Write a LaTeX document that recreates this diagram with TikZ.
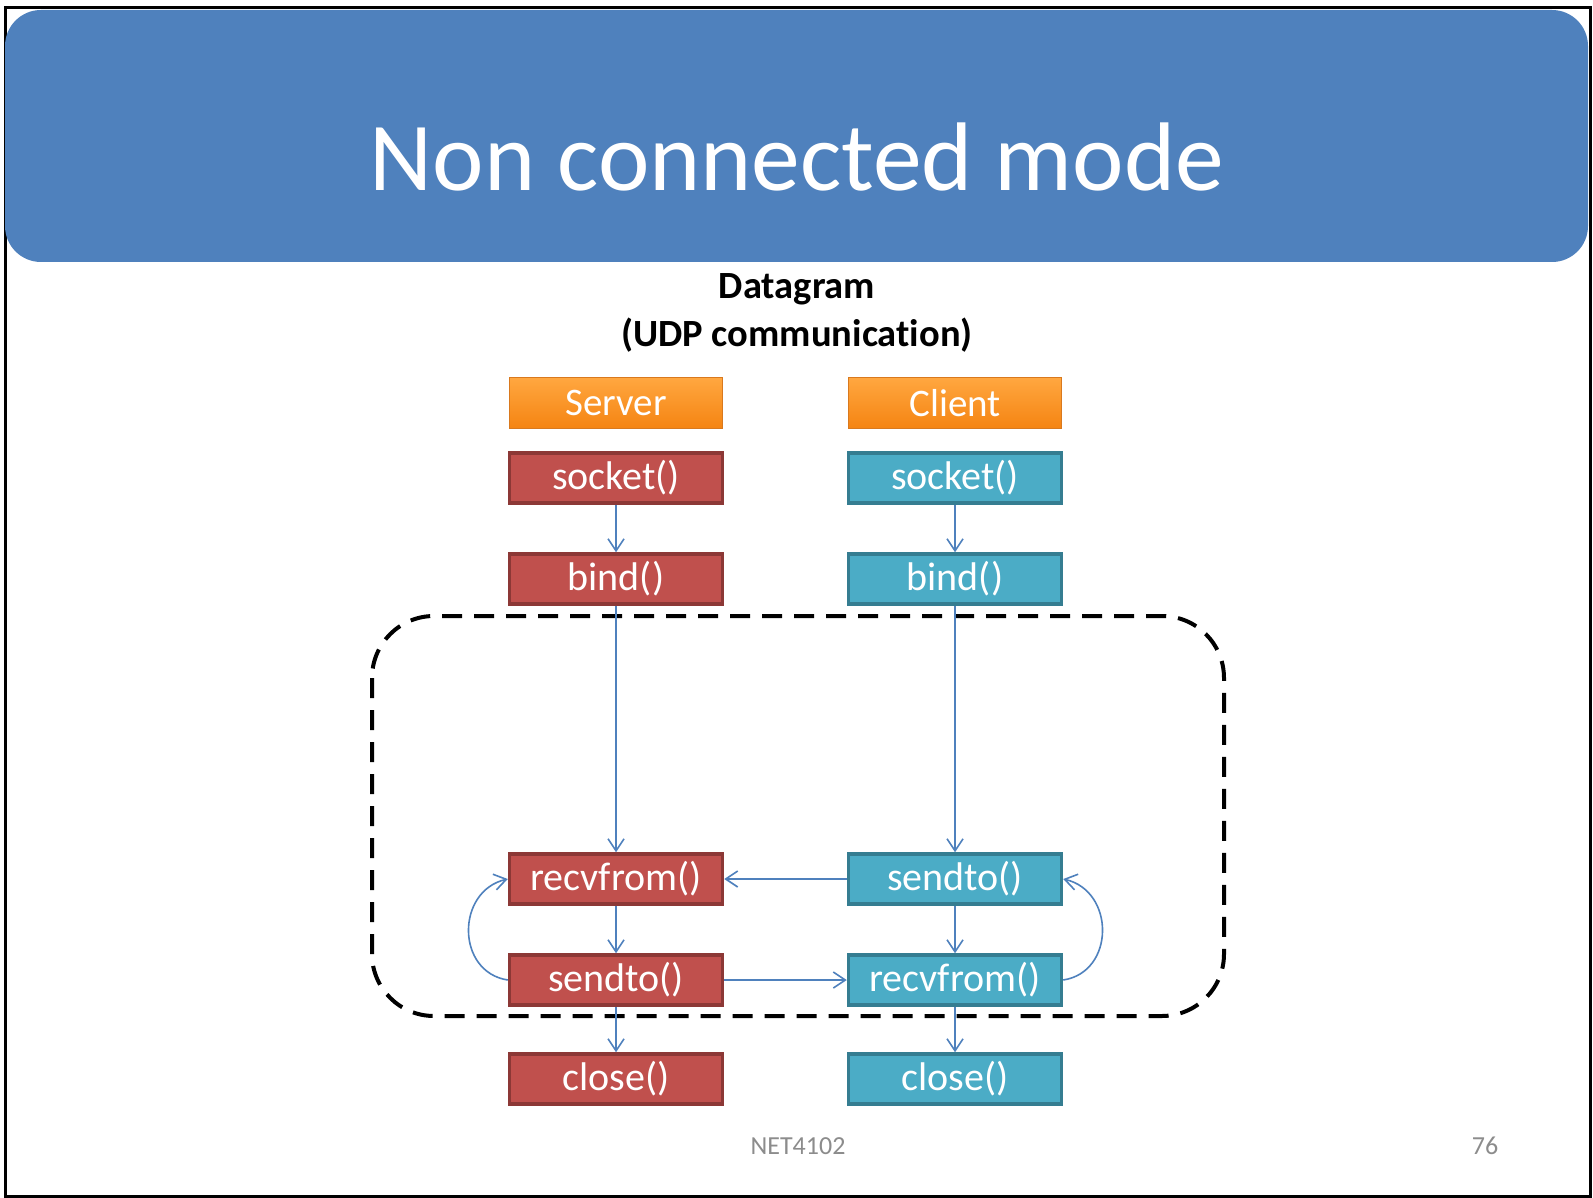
\documentclass[tikz,border=0pt]{standalone}
\usepackage{fontspec}
\setmainfont{Carlito}[Ligatures=NoCommon]
\usetikzlibrary{arrows.meta}
\definecolor{bannerblue}{HTML}{4F81BD}
\definecolor{srvfill}{HTML}{C0504D}
\definecolor{srvdraw}{HTML}{8C3836}
\definecolor{clifill}{HTML}{4BACC6}
\definecolor{clidraw}{HTML}{357D91}
\definecolor{orangetop}{HTML}{FFA740}
\definecolor{orangebot}{HTML}{F58412}
\definecolor{orangedraw}{HTML}{D9791E}
\definecolor{flowblue}{HTML}{4F81BD}
\definecolor{footgray}{HTML}{8C8C8C}
\tikzset{
  boxbase/.style={rectangle, minimum width=213pt, minimum height=50pt, inner sep=0pt,
    line width=3.5pt, text=white, font=\fontsize{40}{46}\selectfont},
  srvbox/.style={boxbase, fill=srvfill, draw=srvdraw},
  clibox/.style={boxbase, fill=clifill, draw=clidraw},
  rolebox/.style={rectangle, minimum width=213pt, minimum height=51pt, inner sep=0pt,
    line width=1.5pt, draw=orangedraw, top color=orangetop, bottom color=orangebot,
    text=white, font=\fontsize{39}{45}\selectfont},
  flow/.style={draw=flowblue, line width=1.6pt,
    -{Straight Barb[length=12pt,width=16pt,line width=1.6pt]}},
  session/.style={draw=black, line width=4pt, dash pattern=on 20pt off 12pt, rounded corners=62pt},
  foot/.style={text=footgray, font=\fontsize{26}{30}\selectfont}
}
\begin{document}
\begin{tikzpicture}[x=1pt,y=-1pt]
\useasboundingbox (0,0) rectangle (1593,1198);
\fill[white] (0,0) rectangle (1593,1198);
\draw[line width=3pt] (5,8) rectangle (1590,1196);
\fill[bannerblue, rounded corners=36pt] (5,10) rectangle (1588,262);
\node[text=white, font=\fontsize{97.5}{112}\selectfont] (title) at (797,157) {Non connected mode};
\node[font=\bfseries\fontsize{38.5}{48}\selectfont, align=center] (sub) at (797,313) {Datagram\\(UDP communication)};

\draw[session] (372,616) rectangle (1224,1016);

\node[rolebox] (server) at (616,403) {Server};
\node[rolebox] (client) at (955,403) {Client};

\node[srvbox] (ssock) at (616,478) {socket()};
\node[srvbox] (sbind) at (616,579) {bind()};
\node[srvbox] (srecv) at (616,879) {recvfrom()};
\node[srvbox] (ssend) at (616,980) {sendto()};
\node[srvbox] (sclose) at (616,1079) {close()};

\node[clibox] (csock) at (955,478) {socket()};
\node[clibox] (cbind) at (955,579) {bind()};
\node[clibox] (csend) at (955,879) {sendto()};
\node[clibox] (crecv) at (955,980) {recvfrom()};
\node[clibox] (cclose) at (955,1079) {close()};

\draw[flow] (ssock) -- (sbind);
\draw[flow] (sbind) -- (srecv);
\draw[flow] (srecv) -- (ssend);
\draw[flow] (ssend) -- (sclose);

\draw[flow] (csock) -- (cbind);
\draw[flow] (cbind) -- (csend);
\draw[flow] (csend) -- (crecv);
\draw[flow] (crecv) -- (cclose);

\draw[flow] (csend) -- (srecv);
\draw[flow] (ssend) -- (crecv);

\draw[flow] (ssend.west) .. controls +(-52,-8) and +(-52,12) .. (srecv.west);
\draw[flow] (crecv.east) .. controls +(52,-8) and +(52,12) .. (csend.east);

\node[foot] (course) at (798,1146) {NET4102};
\node[foot] (page) at (1485,1146) {76};
\end{tikzpicture}
\end{document}
